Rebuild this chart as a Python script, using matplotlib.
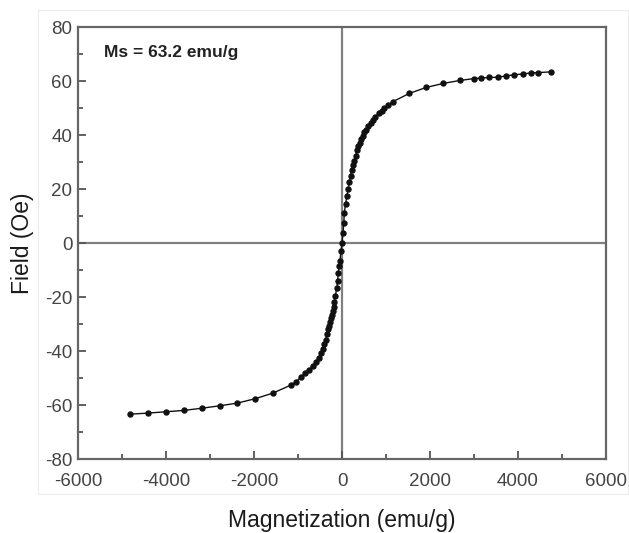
import matplotlib
matplotlib.use("Agg")
import matplotlib.pyplot as plt
from matplotlib.patches import Rectangle
from matplotlib.ticker import MultipleLocator

# magnetization (x) and field (y)
magnetization = [
    -4820, -4410, -4000, -3590, -3190, -2780, -2380, -1980, -1570, -1160,
    -1050, -930, -840, -750, -670, -590, -530, -480, -440, -400,
    -370, -340, -310, -290, -270, -250, -230, -210, -190, -175,
    -150, -120, -100, -84, -60, -46, -23, 0, 23, 40,
    53, 80, 114, 140, 167, 195, 220, 250, 281, 310,
    342, 370, 400, 433, 470, 510, 546, 600, 650, 698,
    760, 830, 900, 964, 1050, 1150, 1530, 1910, 2300, 2680,
    3000, 3170, 3350, 3540, 3730, 3920, 4110, 4300, 4450, 4760,
]
field = [
    -63.4, -63.0, -62.5, -62.0, -61.2, -60.3, -59.3, -57.7, -55.6, -52.6,
    -51.5, -49.6, -48.2, -47.0, -45.6, -44.0, -42.5, -40.6, -39.2, -37.4,
    -35.8, -33.6, -32.0, -30.6, -29.2, -27.9, -26.6, -25.2, -23.6, -21.8,
    -19.5, -16.8, -14.0, -11.0, -8.5, -6.5, -3.0, 0.0, 3.6, 7.5,
    11.0, 14.5, 17.5, 20.0, 22.5, 25.0, 27.0, 28.8, 30.4, 32.4,
    34.4, 36.0, 37.2, 38.4, 39.8, 41.0, 42.0, 43.3, 44.5, 45.6,
    46.8, 48.0, 49.0, 49.9, 51.0, 52.3, 55.4, 57.6, 59.1, 60.2,
    60.9, 61.1, 61.3, 61.4, 61.9, 62.3, 62.6, 63.0, 63.1, 63.4,
]
x_ticks = [-6000, -4000, -2000, 0, 2000, 4000, 6000]
y_ticks = [-80, -60, -40, -20, 0, 20, 40, 60, 80]
annotation = "Ms = 63.2 emu/g"

plt.rcParams['font.family'] = ['Liberation Sans', 'DejaVu Sans']
plt.rcParams['axes.unicode_minus'] = False

fig = plt.figure(figsize=(6.29, 5.33), dpi=100)
fig.patches.append(Rectangle((38 / 629, 1 - 494 / 533), 590 / 629, 484 / 533,
                             transform=fig.transFigure, fill=False,
                             edgecolor="#ececec", linewidth=0.8))

ax = fig.add_axes([78 / 629, 1 - 459 / 533, 528 / 629, 432 / 533])
ax.axhline(0, color="#808080", linewidth=1.6, zorder=1)
ax.axvline(0, color="#808080", linewidth=1.6, zorder=1)
ax.plot(magnetization, field, color="#111111", linewidth=1.0,
        marker="o", markersize=3.6, zorder=3)

ax.text(0.049, 0.94, annotation, transform=ax.transAxes, fontsize=12.5,
        fontweight="bold", color="#222222", va="center", ha="left")

ax.set_xlim(-6000, 6000)
ax.set_ylim(-80, 80)
ax.set_xticks(x_ticks)
ax.set_yticks(y_ticks)
ax.xaxis.set_minor_locator(MultipleLocator(1000))
ax.yaxis.set_minor_locator(MultipleLocator(10))
ax.tick_params(which="both", direction="in", top=False, right=False,
               colors="#555555", labelcolor="#444444", width=1.3)
ax.tick_params(which="major", length=6)
ax.tick_params(which="minor", length=3.5)
ax.tick_params(axis="x", labelsize=13.5, pad=10)
ax.tick_params(axis="y", labelsize=13.5, pad=4)
for s in ax.spines.values():
    s.set_color("#666666")
    s.set_linewidth(1.6)

fig.text(342 / 629, 1 - 520 / 533, "Magnetization (emu/g)", fontsize=16.5,
         ha="center", va="center", color="#1a1a1a")
fig.text(22 / 629, 1 - 243 / 533, "Field (Oe)", fontsize=16.5, rotation=90,
         ha="center", va="center", color="#1a1a1a")

fig.savefig("out.png", dpi=100)
